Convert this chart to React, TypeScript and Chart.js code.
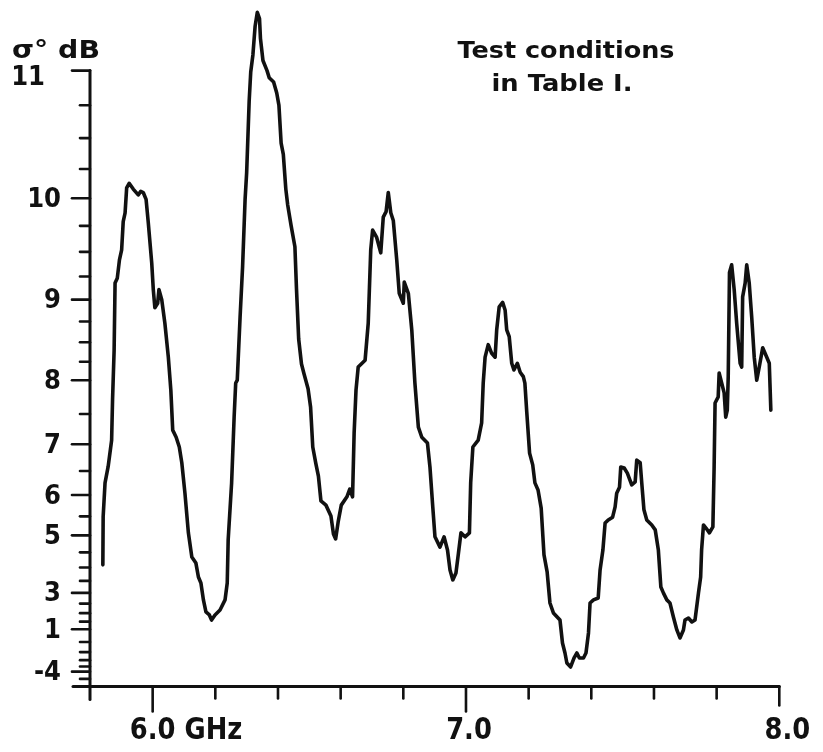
import { useEffect, useRef } from "react";
import { Chart, registerables } from "chart.js";

Chart.register(...registerables);

// ---- data (frequency in GHz, sigma° in dB) ----
const FREQ_GHZ = [
  5.841, 5.842, 5.848, 5.858, 5.869, 5.872, 5.877, 5.880, 5.887, 5.894,
  5.901, 5.906, 5.912, 5.917, 5.925, 5.938, 5.954, 5.962, 5.970, 5.979,
  5.986, 5.997, 6.002, 6.007, 6.016, 6.020, 6.029, 6.039, 6.050, 6.058,
  6.064, 6.075, 6.085, 6.093, 6.103, 6.114, 6.125, 6.138, 6.146, 6.154,
  6.162, 6.170, 6.181, 6.188, 6.199, 6.215, 6.231, 6.238, 6.241, 6.252,
  6.260, 6.265, 6.270, 6.279, 6.287, 6.295, 6.300, 6.308, 6.313, 6.320,
  6.327, 6.334, 6.341, 6.344, 6.352, 6.365, 6.372, 6.386, 6.396, 6.403,
  6.410, 6.417, 6.425, 6.431, 6.442, 6.454, 6.459, 6.466, 6.475, 6.483,
  6.496, 6.504, 6.511, 6.521, 6.529, 6.537, 6.553, 6.569, 6.577, 6.584,
  6.592, 6.602, 6.620, 6.629, 6.638, 6.643, 6.649, 6.656, 6.678, 6.688,
  6.696, 6.702, 6.715, 6.728, 6.736, 6.745, 6.752, 6.760, 6.768, 6.779,
  6.787, 6.800, 6.803, 6.816, 6.827, 6.837, 6.848, 6.859, 6.877, 6.885,
  6.894, 6.901, 6.917, 6.930, 6.941, 6.949, 6.958, 6.968, 6.976, 6.984,
  6.997, 7.011, 7.015, 7.022, 7.039, 7.050, 7.055, 7.061, 7.071, 7.082,
  7.093, 7.098, 7.106, 7.117, 7.125, 7.130, 7.138, 7.146, 7.153, 7.164,
  7.173, 7.183, 7.188, 7.194, 7.203, 7.213, 7.220, 7.230, 7.240, 7.249,
  7.259, 7.268, 7.279, 7.300, 7.308, 7.316, 7.322, 7.334, 7.345, 7.354,
  7.362, 7.375, 7.383, 7.391, 7.396, 7.407, 7.422, 7.428, 7.437, 7.444,
  7.454, 7.468, 7.476, 7.481, 7.490, 7.494, 7.505, 7.515, 7.529, 7.540,
  7.545, 7.556, 7.561, 7.568, 7.577, 7.593, 7.604, 7.614, 7.622, 7.630,
  7.641, 7.651, 7.662, 7.673, 7.683, 7.694, 7.699, 7.710, 7.721, 7.731,
  7.742, 7.749, 7.752, 7.758, 7.766, 7.777, 7.788, 7.792, 7.795, 7.805,
  7.808, 7.816, 7.824, 7.829, 7.834, 7.837, 7.841, 7.848, 7.856, 7.864,
  7.875, 7.880, 7.883, 7.891, 7.896, 7.904, 7.912, 7.920, 7.928, 7.936,
  7.947, 7.960, 7.968, 7.973,
];

const SIGMA_DB = [
  4.09, 5.49, 6.26, 6.59, 7.07, 7.72, 8.40, 9.18, 9.23, 9.42,
  9.52, 9.79, 9.87, 10.09, 10.13, 10.08, 10.03, 10.06, 10.05, 9.99,
  9.78, 9.39, 9.11, 8.91, 8.96, 9.11, 9.00, 8.73, 8.31, 7.86,
  7.24, 7.12, 6.95, 6.66, 6.04, 5.07, 4.35, 4.15, 3.65, 3.42,
  2.68, 2.07, 1.90, 1.60, 1.90, 2.17, 2.68, 3.42, 4.87, 6.26,
  7.45, 7.96, 8.00, 8.80, 9.35, 9.99, 10.22, 10.78, 10.99, 11.11,
  11.30, 11.39, 11.35, 11.22, 11.07, 11.00, 10.95, 10.92, 10.84, 10.75,
  10.46, 10.37, 10.08, 9.94, 9.75, 9.55, 9.12, 8.54, 8.22, 8.09,
  7.88, 7.61, 6.95, 6.64, 6.40, 5.87, 5.77, 5.51, 5.04, 4.90,
  5.36, 5.77, 5.96, 6.13, 5.96, 7.19, 7.86, 8.18, 8.27, 8.73,
  9.52, 9.71, 9.64, 9.49, 9.83, 9.88, 10.05, 9.87, 9.80, 9.42,
  9.07, 8.96, 9.19, 9.07, 8.65, 7.96, 7.29, 7.12, 7.02, 6.58,
  5.73, 4.96, 4.66, 4.96, 4.57, 3.91, 3.54, 3.80, 4.48, 5.07,
  4.96, 5.07, 6.26, 6.95, 7.07, 7.36, 7.96, 8.31, 8.47, 8.36,
  8.31, 8.65, 8.92, 8.97, 8.88, 8.65, 8.57, 8.23, 8.14, 8.23,
  8.11, 8.05, 7.96, 7.53, 6.84, 6.62, 6.26, 6.11, 5.70, 4.42,
  3.84, 2.53, 2.01, 1.60, -0.09, -1.10, -2.41, -3.07, -1.70, -1.10,
  -1.70, -1.70, -1.10, 0.73, 2.53, 2.68, 2.77, 3.91, 4.57, 5.33,
  5.41, 5.48, 5.73, 6.04, 6.17, 6.58, 6.56, 6.46, 6.22, 6.28,
  6.71, 6.66, 6.26, 5.66, 5.41, 5.28, 5.15, 4.57, 3.25, 3.00,
  2.68, 2.53, 1.78, 0.95, 0.34, 0.95, 1.60, 1.72, 1.48, 1.60,
  3.00, 3.65, 4.57, 5.28, 5.20, 5.07, 5.23, 6.58, 7.67, 7.76,
  8.10, 7.96, 7.82, 7.45, 7.56, 8.05, 9.29, 9.37, 9.11, 8.73,
  8.23, 8.18, 9.03, 9.18, 9.37, 9.18, 8.80, 8.31, 8.00, 8.18,
  8.43, 8.31, 8.23, 7.56,
];

// y axis: labelled in dB, but spaced linearly in power ratio
const Y_MAJOR_DB = [11, 10, 9, 8, 7, 6, 5, 3, 1, -4];
const Y_MINOR_DB = [
  10.75, 10.5, 10.25, 9.75, 9.5, 9.25, 8.75, 8.5, 8.25, 7.5, 6.5, 5.5,
  4.5, 4, 3.5, 2.5, 2, 1.5, 0, -1, -2, -3, -6,
];
const Y_UNIT_LABEL = "σ° dB";

const X_MIN = 5.8;
const X_MAX = 8.0;
const X_MAJOR = [6.0, 7.0, 8.0];
const X_MAJOR_LABELS = ["6.0 GHz", "7.0", "8.0"];
const X_MINOR = [6.2, 6.4, 6.6, 6.8, 7.2, 7.4, 7.6, 7.8];

const NOTE_LINES = ["Test conditions", "in Table I."];

const toPower = (db: number) => Math.pow(10, db / 10);

// ---- styling ----
const INK = "#111111";
const FONT = '"DejaVu Sans", "Liberation Sans", sans-serif';

function drawText(
  ctx: CanvasRenderingContext2D,
  text: string,
  x: number,
  y: number,
  size: number,
  sx: number,
  align: CanvasTextAlign
) {
  ctx.save();
  ctx.font = `bold ${size}px ${FONT}`;
  ctx.textBaseline = "middle";
  ctx.textAlign = align;
  ctx.translate(x, y);
  ctx.scale(sx, 1);
  ctx.fillText(text, 0, 0);
  ctx.restore();
}

function drawTextWidth(
  ctx: CanvasRenderingContext2D,
  text: string,
  x: number,
  y: number,
  size: number,
  width: number,
  align: CanvasTextAlign
) {
  ctx.save();
  ctx.font = `bold ${size}px ${FONT}`;
  const w = ctx.measureText(text).width || 1;
  ctx.restore();
  drawText(ctx, text, x, y, size, width / w, align);
}

const paperAxes = {
  id: "paperAxes",
  afterDraw(chart: any) {
    const { ctx, chartArea } = chart;
    const xs = chart.scales.x;
    const ys = chart.scales.y;
    const left = chartArea.left;
    const bottom = chartArea.bottom;

    const seg = (x1: number, y1: number, x2: number, y2: number) => {
      ctx.beginPath();
      ctx.moveTo(x1, y1);
      ctx.lineTo(x2, y2);
      ctx.stroke();
    };

    ctx.save();
    ctx.strokeStyle = INK;
    ctx.fillStyle = INK;
    ctx.lineWidth = 3;
    ctx.lineCap = "round";
    ctx.lineJoin = "round";

    // y axis line
    const yTop = ys.getPixelForValue(toPower(Y_MAJOR_DB[0]));
    seg(left, yTop, left, bottom + 13);
    // x axis line
    const xEnd = xs.getPixelForValue(X_MAX);
    seg(left - 17, bottom, xEnd, bottom);

    // y ticks
    ctx.lineWidth = 2.6;
    Y_MINOR_DB.forEach((d) => {
      const py = ys.getPixelForValue(toPower(d));
      seg(left - 10, py, left, py);
    });
    Y_MAJOR_DB.forEach((d, i) => {
      const py = ys.getPixelForValue(toPower(d));
      seg(left - 18, py, left, py);
      const label = String(d);
      if (i === 0) {
        drawText(ctx, label, left - 45, py + 7, 27, 0.9, "right");
      } else {
        drawText(ctx, label, left - 29, py + 1.5, 27, 0.9, "right");
      }
    });

    // x ticks
    X_MINOR.forEach((v) => {
      const px = xs.getPixelForValue(v);
      seg(px, bottom, px, bottom + 12);
    });
    X_MAJOR.forEach((v, i) => {
      const px = xs.getPixelForValue(v);
      const isLast = i === X_MAJOR.length - 1;
      seg(px, bottom, px, bottom + (isLast ? 19 : 25));
      const label = X_MAJOR_LABELS[i];
      const parts = label.split(" ");
      const size = 30;
      const sx = 0.86;
      ctx.save();
      ctx.font = `bold ${size}px ${FONT}`;
      const wFirst = ctx.measureText(parts[0]).width * sx;
      ctx.restore();
      const startX = px - wFirst / 2 + (isLast ? 8 : i === 0 ? 0 : 3);
      drawText(ctx, label, startX, bottom + 45, size, sx, "left");
    });

    // unit label above the y axis
    drawTextWidth(ctx, Y_UNIT_LABEL, 12, 51, 25, 88, "left");

    // note
    drawTextWidth(ctx, NOTE_LINES[0], 566, 52, 23, 217, "center");
    drawTextWidth(ctx, NOTE_LINES[1], 562, 85, 23, 141, "center");

    ctx.restore();
  },
};

export default function App() {
  const canvasRef = useRef<HTMLCanvasElement | null>(null);

  useEffect(() => {
    const canvas = canvasRef.current;
    if (!canvas) return;
    const points = FREQ_GHZ.map((f, i) => ({ x: f, y: toPower(SIGMA_DB[i]) }));
    const chart = new Chart(canvas, {
      type: "line",
      data: {
        datasets: [
          {
            label: "σ°",
            data: points,
            borderColor: INK,
            borderWidth: 3.6,
            pointRadius: 0,
            tension: 0,
            fill: false,
            borderJoinStyle: "round",
            borderCapStyle: "round",
            clip: false as any,
          },
        ],
      },
      options: {
        animation: false,
        responsive: true,
        maintainAspectRatio: false,
        layout: { padding: { left: 90, right: 43.7, top: 4, bottom: 65.5 } },
        plugins: {
          legend: { display: false },
          tooltip: { enabled: false },
          title: { display: false },
        },
        scales: {
          x: { type: "linear", min: X_MIN, max: X_MAX, display: false },
          y: { type: "linear", min: 0.097, max: 13.94, display: false },
        },
      },
      plugins: [paperAxes],
    });
    return () => chart.destroy();
  }, []);

  return (
    <div
      style={{
        position: "fixed",
        left: 0,
        top: 0,
        width: 823,
        height: 752,
        background: "#ffffff",
      }}
    >
      <canvas ref={canvasRef} />
    </div>
  );
}
